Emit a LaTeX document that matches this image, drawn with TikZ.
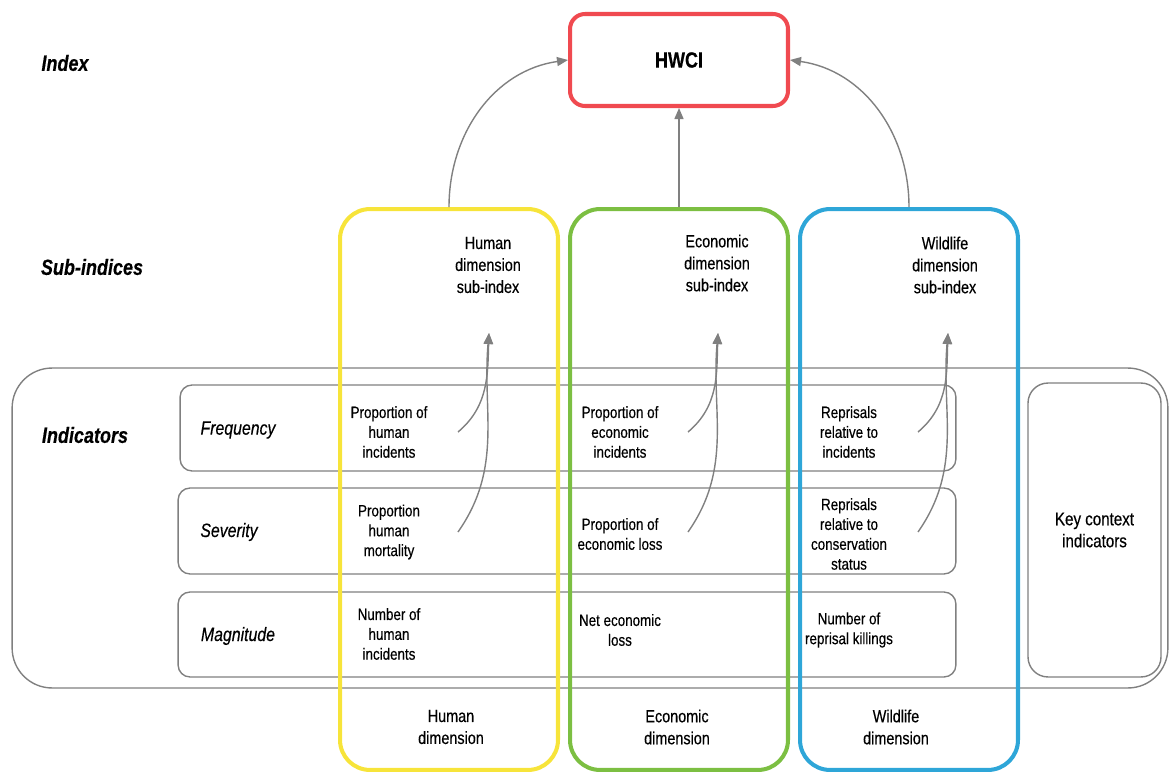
\documentclass[tikz,border=0pt]{standalone}
\usepackage{fontspec}
\setmainfont[FakeStretch=0.82, FakeBold=0.4]{Liberation Sans}
\usetikzlibrary{arrows.meta}

\definecolor{hwcired}{HTML}{F04A50}
\definecolor{humyellow}{HTML}{F7E43A}
\definecolor{ecogreen}{HTML}{7CBF42}
\definecolor{wildblue}{HTML}{2EA6D8}
\definecolor{linegray}{HTML}{808080}

\begin{document}
\begin{tikzpicture}[x=0.02cm, y=-0.02cm, font=\fontsize{9.3}{11.3}\selectfont,
    dim/.style = {draw, line width=2.3pt, rounded corners=0.6cm, minimum width=4.36cm, minimum height=11.22cm},
    row/.style = {draw=linegray, line width=0.8pt, rounded corners=0.24cm, minimum height=1.72cm},
    txt/.style = {align=center, inner sep=1pt},
    lvl/.style = {font=\fontsize{12.5}{14}\selectfont\bfseries\itshape},
    rowlbl/.style = {font=\fontsize{11}{13}\selectfont\itshape},
    sub/.style = {txt, font=\fontsize{10}{12.5}\selectfont},
    arr/.style = {draw=linegray, line width=0.8pt, -{Triangle[length=2.2mm,width=1.8mm]}}]
    \useasboundingbox (0,0) rectangle (1170,774);

    % grey frames for the indicators
    \node[draw=linegray, line width=0.8pt, rounded corners=0.8cm, minimum width=23.12cm, minimum height=6.4cm] (ind) at (590,528) {};
    \node[row, minimum width=15.52cm] (freq) at (568,428) {};
    \node[row, minimum width=15.56cm] (sev) at (567,531) {};
    \node[row, minimum width=15.56cm, minimum height=1.7cm] (mag) at (567,634.5) {};
    \node[draw=linegray, line width=0.8pt, rounded corners=0.4cm, minimum width=2.66cm, minimum height=5.88cm, txt, font=\fontsize{10.5}{12.5}\selectfont] (key) at (1094.5,530) {Key context\\indicators};

    % index and dimensions
    \node[draw=hwcired, line width=2.3pt, rounded corners=0.3cm, minimum width=4.36cm, minimum height=1.84cm, font=\fontsize{12.5}{14}\selectfont\bfseries] (hwci) at (679,60) {HWCI};
    \node[dim, draw=humyellow] (hum) at (449,489.5) {};
    \node[dim, draw=ecogreen] (eco) at (679,489.5) {};
    \node[dim, draw=wildblue] (wild) at (909,489.5) {};

    % level labels
    \node[lvl] (lindex) at (65,63) {Index};
    \node[lvl] (lsub) at (92,267) {Sub-indices};
    \node[lvl] (lind) at (85,435) {Indicators};
    \node[rowlbl] (lfreq) at (238,430) {Frequency};
    \node[rowlbl] (lsev) at (229,532) {Severity};
    \node[rowlbl] (lmag) at (238,636) {Magnitude};

    % sub-indices
    \node[sub] (hsub) at (488,265) {Human\\dimension\\sub-index};
    \node[sub] (esub) at (717,263) {Economic\\dimension\\sub-index};
    \node[sub] (wsub) at (945,265) {Wildlife\\dimension\\sub-index};

    % indicators
    \node[txt] (h1) at (389,432) {Proportion of\\human\\incidents};
    \node[txt] (h2) at (389,532) {Proportion\\human\\mortality};
    \node[txt] (h3) at (389,634) {Number of\\human\\incidents};
    \node[txt] (e1) at (620,432) {Proportion of\\economic\\incidents};
    \node[txt] (e2) at (620,534) {Proportion of\\economic loss};
    \node[txt] (e3) at (620,630) {Net economic\\loss};
    \node[txt] (w1) at (849,432) {Reprisals\\relative to\\incidents};
    \node[txt] (w2) at (849,534) {Reprisals\\relative to\\conservation\\status};
    \node[txt] (w3) at (849,630) {Number of\\reprisal killings};

    % dimension names
    \node[sub] (hname) at (451,727) {Human\\dimension};
    \node[sub] (ename) at (677,727) {Economic\\dimension};
    \node[sub] (wname) at (896,727) {Wildlife\\dimension};

    % arrows to the index
    \draw[arr] (hum.north) to[out=90, in=188] (hwci.west);
    \draw[arr] (eco.north) -- (hwci.south);
    \draw[arr] (wild.north) to[out=90, in=-8] (hwci.east);

    % arrows to the sub-indices
    \coordinate (hup) at (489,333);
    \coordinate (eup) at (718,333);
    \coordinate (wup) at (948,333);
    \coordinate (hf) at (458,432);
    \coordinate (hs) at (458,532);
    \coordinate (ef) at (688,432);
    \coordinate (es) at (688,532);
    \coordinate (wf) at (918,432);
    \coordinate (ws) at (918,532);
    \draw[arr] (hf) to[out=40, in=-92] (hup);
    \draw[arr] (hs) to[out=55, in=-95] (hup);
    \draw[arr] (ef) to[out=40, in=-92] (eup);
    \draw[arr] (es) to[out=55, in=-95] (eup);
    \draw[arr] (wf) to[out=40, in=-92] (wup);
    \draw[arr] (ws) to[out=55, in=-95] (wup);

\end{tikzpicture}
\end{document}
